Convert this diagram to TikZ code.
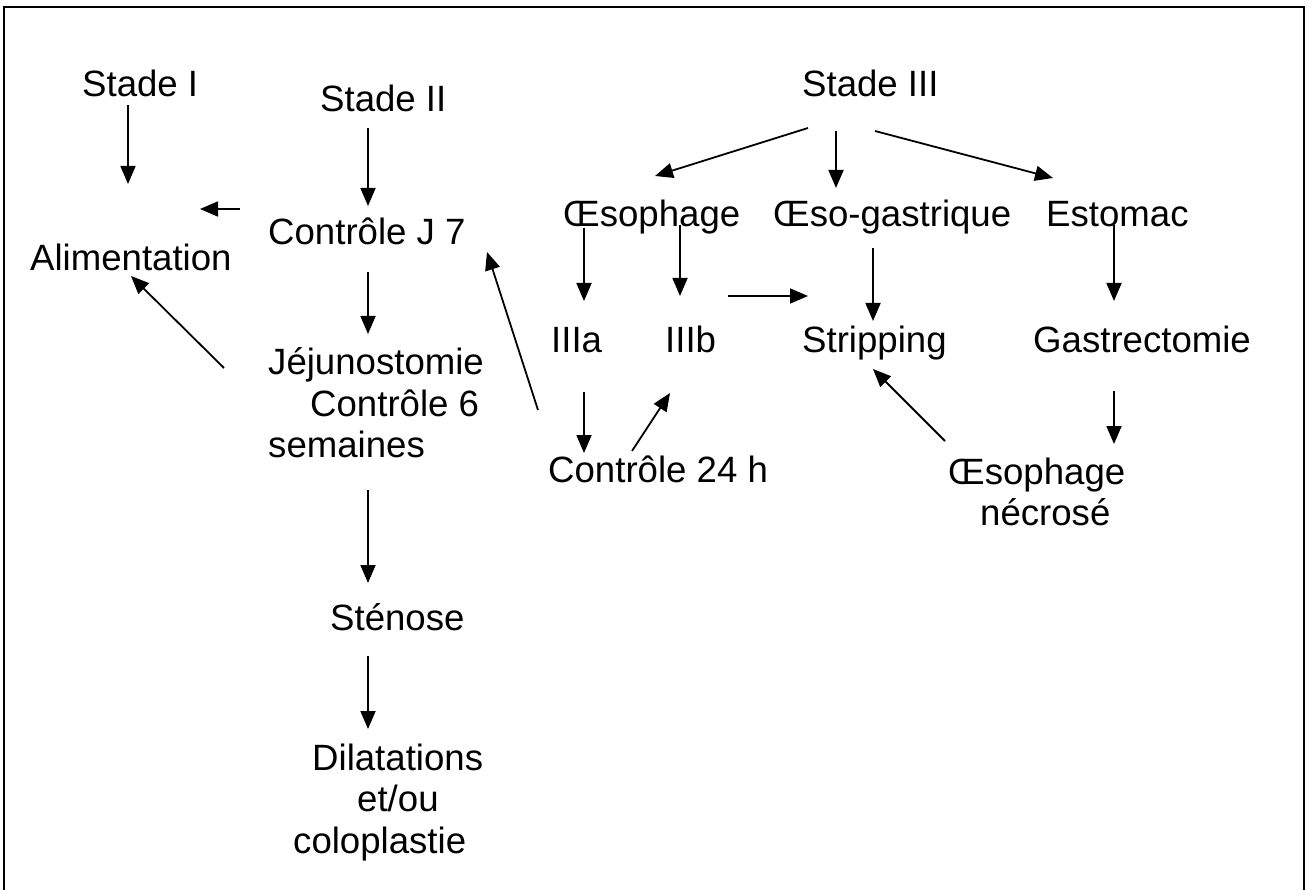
\documentclass[tikz,border=0pt]{standalone}
\usepackage{fontspec}
\setmainfont{Liberation Sans}
\usetikzlibrary{arrows.meta}
\tikzset{
  lbl/.style={inner sep=0pt, anchor=base west, font=\fontsize{36.6}{41.5}\selectfont},
  arr/.style={-{Triangle[length=18pt,width=15pt]}, line width=1.8pt},
  frame/.style={line width=2pt}
}
\begin{document}
\begin{tikzpicture}[x=1pt,y=-1pt]
\useasboundingbox (0,0) rectangle (1309,890);
% outer frame (open at the bottom)
\draw[frame] (4,890) -- (4,7) -- (1304,7) -- (1304,890);

% labels
\node[lbl] (s1)   at (82,97)   {Stade I};
\node[lbl] (s2)   at (320,112) {Stade II};
\node[lbl] (s3)   at (802,97)  {Stade III};
\node[lbl] (alim) at (30,271)  {Alimentation};
\node[lbl] (cj7)  at (268,245) {Contrôle J 7};
\node[lbl] (oes)  at (563,227) {Œsophage};
\node[lbl] (oeg)  at (773,227) {Œso-gastrique};
\node[lbl] (est)  at (1046,227) {Estomac};
\node[lbl] (t3a)  at (551,353) {IIIa};
\node[lbl] (t3b)  at (665,353) {IIIb};
\node[lbl] (strip) at (802,353) {Stripping};
\node[lbl] (gast) at (1033,353) {Gastrectomie};
\node[lbl] (jej)  at (268,375) {\vtop{\hbox{Jéjunostomie}\hbox{\hspace*{42pt}Contrôle 6}\hbox{semaines}}};
\node[lbl] (c24)  at (548,482) {Contrôle 24 h};
\node[lbl] (nec)  at (948,484) {\vtop{\hbox{Œsophage}\hbox{\hspace*{32pt}nécrosé}}};
\node[lbl] (sten) at (330,630) {Sténose};
\node[lbl] (dil)  at (293,770) {\vtop{\hbox{\hspace*{19pt}Dilatations}\hbox{\hspace*{64pt}et/ou}\hbox{coloplastie}}};

% connector end points (p = tail, q = tip)
\coordinate (p1) at (128,105);  \coordinate (q1) at (128,184);
\coordinate (p2) at (368,128);  \coordinate (q2) at (368,206);
\coordinate (p3) at (240,209);  \coordinate (q3) at (200,209);
\coordinate (p4) at (368,272);  \coordinate (q4) at (368,334);
\coordinate (p5) at (224,368);  \coordinate (q5) at (131,276);
\coordinate (p6) at (538,410);  \coordinate (q6) at (487,252);
\coordinate (p7) at (368,490);  \coordinate (q7) at (368,583);
\coordinate (p8) at (368,656);  \coordinate (q8) at (368,729);
\coordinate (p9) at (808,128);  \coordinate (q9) at (655,176);
\coordinate (p10) at (836,131); \coordinate (q10) at (836,188);
\coordinate (p11) at (875,131); \coordinate (q11) at (1053,178);
\coordinate (p12) at (584,228); \coordinate (q12) at (584,301);
\coordinate (p13) at (680,225); \coordinate (q13) at (680,296);
\coordinate (p14) at (728,296); \coordinate (q14) at (808,296);
\coordinate (p15) at (873,248); \coordinate (q15) at (873,321);
\coordinate (p16) at (1114,225); \coordinate (q16) at (1114,301);
\coordinate (p17) at (584,392); \coordinate (q17) at (584,453);
\coordinate (p18) at (632,451); \coordinate (q18) at (670,393);
\coordinate (p19) at (945,441); \coordinate (q19) at (873,369);
\coordinate (p20) at (1114,391); \coordinate (q20) at (1114,444);

% connectors
\foreach \i in {1,...,20} \draw[arr] (p\i) -- (q\i);
\end{tikzpicture}
\end{document}
